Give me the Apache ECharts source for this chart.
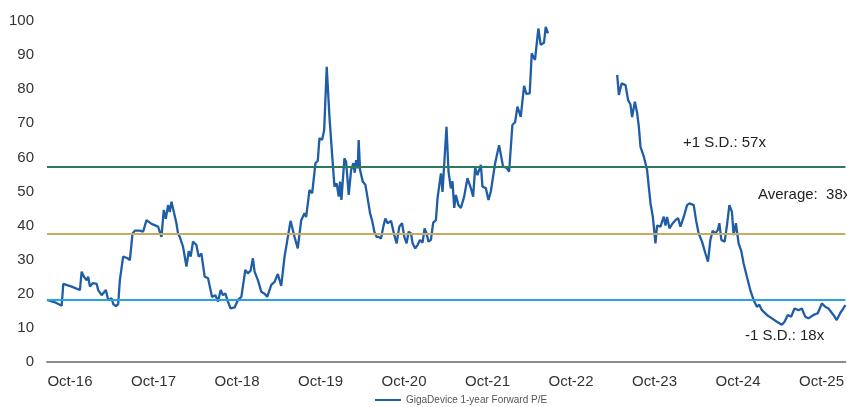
<!DOCTYPE html>
<html>
<head>
<meta charset="utf-8">
<script src="https://cdn.jsdelivr.net/npm/echarts@6.0.0/dist/echarts.min.js"></script>
<style>
  html, body { margin: 0; padding: 0; background: #fff; }
  #chart { width: 847px; height: 407px; }
</style>
</head>
<body>
<div id="chart"></div>
<script>
// x = months since Oct-2016, y = 1-year forward P/E
const months = [
  -3.3, -2.15, -1.19, -0.96, 0.24, 1.43, 1.68, 2.01, 2.4, 2.62, 2.87, 3.26, 3.83, 4.06, 4.55, 5.16,
  5.49, 5.98, 6.21, 6.6, 6.93, 7.17, 7.64, 8.22, 8.61, 8.99, 9.32, 10.04, 10.51, 11.0, 11.72, 12.66,
  13.15, 13.48, 13.77, 14.1, 14.34, 14.59, 14.82, 15.3, 15.53, 15.78, 16.25, 16.74, 17.07, 17.35, 17.68, 18.17,
  18.5, 18.89, 19.36, 19.84, 20.41, 20.9, 21.27, 21.66, 21.99, 22.33, 22.7, 23.09, 23.66, 24.14, 24.63, 25.2,
  25.57, 25.96, 26.29, 26.53, 27.01, 27.49, 27.97, 28.35, 28.93, 29.4, 29.87, 30.36, 30.84, 31.7, 32.27, 32.74,
  33.23, 33.7, 33.94, 34.42, 34.81, 35.28, 35.61, 35.85, 36.24, 36.53, 36.9, 37.29, 37.76, 38.01, 38.33, 38.62,
  38.82, 39.01, 39.44, 39.68, 40.06, 40.4, 40.73, 40.92, 41.12, 41.35, 41.49, 41.69, 42.07, 42.45, 42.78, 43.13,
  43.41, 43.74, 44.07, 44.36, 44.7, 45.03, 45.32, 45.65, 46.14, 46.61, 46.94, 47.33, 47.72, 48.05, 48.38, 48.66,
  49.01, 49.24, 49.62, 49.95, 50.3, 50.67, 50.96, 51.24, 51.53, 51.87, 52.2, 52.59, 52.82, 53.31, 53.54, 54.11,
  54.4, 54.74, 54.97, 55.22, 55.46, 55.83, 56.18, 56.65, 57.12, 57.61, 57.94, 58.23, 58.56, 59.05, 59.28, 59.76,
  60.14, 60.48, 61.1, 61.67, 62.24, 62.72, 63.11, 63.58, 63.97, 64.3, 64.78, 65.26, 65.59, 66.07, 66.36, 66.83,
  67.31, 67.65, 68.12, 68.37, 68.7,
  73.5,
  78.64, 78.88, 79.27, 79.84, 80.21, 80.55, 80.78, 81.18, 81.51, 81.75, 81.99, 82.47, 82.94, 83.18, 83.43, 83.76,
  84.14, 84.37, 84.86, 85.33, 85.58, 85.81, 86.15, 86.63, 87.01, 87.39, 87.73, 88.21, 88.68, 89.02, 89.64, 89.97,
  90.35, 90.83, 91.31, 91.69, 92.03, 92.36, 92.75, 93.12, 93.32, 93.61, 94.08, 94.41, 94.76, 95.13, 95.37, 95.7,
  96.09, 96.48, 96.81, 97.28, 97.77, 98.24, 98.72, 99.06, 99.44, 100.15, 100.87, 101.59, 102.3, 102.69, 103.16, 103.65,
  104.12, 104.7, 105.17, 105.66, 106.13, 106.85, 107.47, 108.05, 108.53, 109.0, 109.72, 110.19, 110.68, 111.15, 111.43
];
const pe = [
  18.2, 17.5, 16.5, 22.9, 22.1, 21.1, 26.5, 25, 24, 25, 22.1, 23.1, 22.9, 21.1, 19.6, 21.1,
  18.2, 18.7, 17, 16.4, 17, 24, 30.9, 30.5, 29.9, 37.7, 38.5, 38.5, 38.2, 41.6, 40.5, 39.7,
  36.7, 44.6, 42, 46, 44, 47, 46.5, 40.7, 37.7, 36.7, 33.8, 28, 32.5, 30.9, 35.3, 34.3,
  30.9, 31.8, 25, 24.6, 19.1, 19.6, 17.7, 21.1, 19.6, 20.1, 17.7, 15.7, 16, 18.2, 19.1, 27,
  26, 26.8, 30.4, 26.5, 24, 20.6, 20, 19.1, 22.6, 23.5, 25.8, 22.3, 30.9, 41.4, 36.7, 33.3,
  41.6, 43.6, 42.5, 50.4, 49.5, 58.3, 59, 65.6, 65.2, 68, 86.6, 71.9, 58.3, 51.4, 52.4, 48.5,
  52.9, 47.5, 59.7, 58.8, 49, 56.3, 58.3, 55.5, 59.2, 56.8, 65.1, 56.3, 52.9, 52, 48, 43.6,
  41.6, 38.2, 36.7, 36.7, 36.2, 39.7, 42.1, 40.7, 41.4, 37.2, 34.8, 39.7, 40.7, 36.7, 34.8, 38.2,
  37.7, 34.8, 33.3, 34.3, 35.8, 35, 39.2, 37.7, 35.3, 35.8, 40.9, 41.6, 48, 55.3, 49.9, 69,
  55.8, 50.9, 53, 45.2, 49, 46, 45.2, 48.5, 53.9, 51, 48.5, 57, 54.8, 57.8, 51.4, 51,
  47.5, 50, 58.3, 63.6, 57.3, 57, 55.8, 69.5, 70.3, 74.9, 71.9, 81, 78.6, 78.8, 90.5, 88.6,
  97.8, 93, 93.6, 98.3, 96.4,
  null,
  84.2, 78.3, 81.7, 81.2, 76.8, 75.5, 71.8, 76.3, 73, 69, 63.1, 60.2, 56.3, 51.4, 46.5, 42.6,
  34.8, 40, 39.7, 42.6, 40, 42.5, 39.2, 40.7, 41.6, 42.2, 39.7, 42.6, 46, 46.5, 46, 41.6,
  37.7, 35.3, 31.9, 29.4, 35.8, 38.5, 37.7, 38.8, 40.7, 35.8, 35.3, 40, 46, 44, 37.2, 40.7,
  34.8, 32.5, 28.9, 25, 21.1, 18.2, 16.2, 16.8, 15.2, 13.8, 12.8, 11.8, 10.9, 11.8, 13.8, 13.3,
  15.7, 15.2, 15.7, 13.3, 12.8, 13.8, 14.3, 17.2, 16.2, 15.7, 13.8, 12.3, 14.3, 15.7, 16.7
];
const xTickMonths = [0, 12, 24, 36, 48, 60, 72, 84, 96, 108];
const xTickLabels = ['Oct-16', 'Oct-17', 'Oct-18', 'Oct-19', 'Oct-20', 'Oct-21', 'Oct-22', 'Oct-23', 'Oct-24', 'Oct-25'];
const plusSD = 57.3;
const average = 37.6;
const minusSD = 18.2;
const seriesName = 'GigaDevice 1-year Forward P/E';

const chartDom = document.getElementById('chart');
const myChart = echarts.init(chartDom, null, { renderer: 'canvas' });

const font = "'Liberation Sans', Arial, sans-serif";
const lineData = months.map((m, i) => [m, pe[i] === null ? '-' : pe[i]]);

const option = {
    animation: false,
    grid: {
        left: 47,
        right: 0,
        top: 21,
        bottom: 45
    },
    legend: {
        left: 375,
        top: 395,
        padding: 0,
        itemWidth: 26,
        itemHeight: 10,
        itemGap: 5,
        icon: 'path://M0,4 L26,4 L26,6 L0,6 Z',
        textStyle: {
            fontFamily: font,
            fontSize: 10,
            color: '#555'
        },
        data: [seriesName]
    },
    xAxis: {
        type: 'value',
        min: -3.3,
        max: 111.43,
        splitLine: { show: false },
        axisTick: { show: false },
        axisLine: {
            show: true,
            onZero: false,
            lineStyle: { color: '#8c8c8c', width: 2 }
        },
        axisLabel: {
            customValues: xTickMonths,
            margin: 12,
            fontFamily: font,
            fontSize: 15,
            color: '#333',
            formatter: (v) => {
                const i = xTickMonths.indexOf(Math.round(v));
                return i >= 0 ? xTickLabels[i] : '';
            }
        }
    },
    yAxis: {
        type: 'value',
        min: 0,
        max: 100,
        interval: 10,
        splitLine: { show: false },
        axisLine: { show: false },
        axisTick: { show: false },
        axisLabel: {
            margin: 13,
            fontFamily: font,
            fontSize: 15,
            color: '#333'
        }
    },
    series: [
        {
            name: seriesName,
            type: 'line',
            data: lineData,
            showSymbol: false,
            connectNulls: false,
            lineStyle: { color: '#1f5da6', width: 2.3 },
            itemStyle: { color: '#1f5da6' },
            z: 3,
            markLine: {
                silent: true,
                symbol: 'none',
                label: { show: false },
                data: [
                    { yAxis: plusSD, lineStyle: { color: '#2e7a58', width: 2, type: 'solid' } },
                    { yAxis: average, lineStyle: { color: '#c9aa62', width: 2, type: 'solid' } },
                    { yAxis: minusSD, lineStyle: { color: '#2aa2e0', width: 2, type: 'solid' } }
                ]
            }
        }
    ],
    graphic: [
        { type: 'text', left: 683, top: 135, style: { text: '+1 S.D.: 57x', font: '15px ' + font, fill: '#222' } },
        { type: 'text', left: 758, top: 187, style: { text: 'Average:  38x', font: '15px ' + font, fill: '#222' } },
        { type: 'text', left: 745, top: 328, style: { text: '-1 S.D.: 18x', font: '15px ' + font, fill: '#222' } }
    ]
};

myChart.setOption(option);
</script>
</body>
</html>
